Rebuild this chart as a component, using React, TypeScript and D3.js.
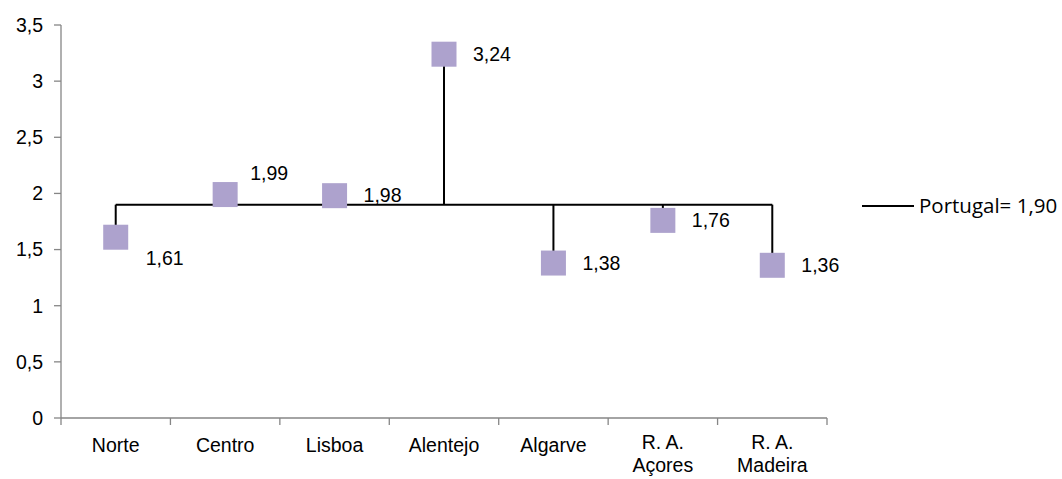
import React from "react";
import * as d3 from "d3";

const categories: string[][] = [["Norte"], ["Centro"], ["Lisboa"], ["Alentejo"], ["Algarve"], ["R. A.", "Açores"], ["R. A.", "Madeira"]];
const values: number[] = [1.61, 1.99, 1.98, 3.24, 1.38, 1.76, 1.36];
const labelPlacement: string[] = ["below", "above", "right", "right", "right", "right", "right"];
const portugalValue = 1.9;
const legendLabel = "Portugal= 1,90";
const yTicks: number[] = [0, 0.5, 1, 1.5, 2, 2.5, 3, 3.5];

const fmt = (v: number) => String(v).replace(".", ",");
const fmt2 = (v: number) => v.toFixed(2).replace(".", ",");

export default function App() {
  const W = 1062, H = 479;
  const left = 61, right = 827, top = 25, bottom = 418;
  const x = d3.scaleBand<number>().domain(d3.range(categories.length)).range([left, right]);
  const y = d3.scaleLinear().domain([0, 3.5]).range([bottom, top]);
  const cx = (i: number) => (x(i) as number) + x.bandwidth() / 2;
  const axisColor = "#868686";
  const markerColor = "#ADA2CD";
  const ms = 25;
  const font = "'Liberation Sans', Arial, sans-serif";
  const fs = 19.5;
  const boundaries = d3.range(categories.length + 1).map((i) => left + i * x.bandwidth());

  return (
    <svg width={W} height={H} style={{ position: "absolute", left: 0, top: 0 }}>
      <rect width={W} height={H} fill="#fff" />
      {/* y axis */}
      <line x1={left} x2={left} y1={top} y2={bottom} stroke={axisColor} strokeWidth={1.3} />
      {yTicks.map((t) => (
        <g key={t}>
          <line x1={left - 7} x2={left} y1={y(t)} y2={y(t)} stroke={axisColor} strokeWidth={1.3} />
          <text x={43} y={y(t)} dy="0.35em" textAnchor="end" fontFamily={font} fontSize={fs} fill="#000">
            {fmt(t)}
          </text>
        </g>
      ))}
      {/* x axis */}
      <line x1={left} x2={right} y1={bottom} y2={bottom} stroke={axisColor} strokeWidth={1.3} />
      {boundaries.map((b, i) => (
        <line key={i} x1={b} x2={b} y1={bottom} y2={bottom + 7} stroke={axisColor} strokeWidth={1.3} />
      ))}
      {categories.map((lines, i) => (
        <text key={i} x={cx(i)} y={lines.length > 1 ? 449 : 452} textAnchor="middle" fontFamily={font} fontSize={fs} fill="#000">
          {lines.map((l, j) => (
            <tspan key={j} x={cx(i)} dy={j === 0 ? 0 : 23}>
              {l}
            </tspan>
          ))}
        </text>
      ))}
      {/* Portugal line */}
      <line x1={cx(0)} x2={cx(categories.length - 1)} y1={y(portugalValue)} y2={y(portugalValue)} stroke="#000" strokeWidth={2} />
      {/* drop lines */}
      {values.map((v, i) => (
        <line key={i} x1={cx(i)} x2={cx(i)} y1={y(portugalValue)} y2={y(v)} stroke="#000" strokeWidth={2} />
      ))}
      {/* markers */}
      {values.map((v, i) => (
        <rect key={i} x={cx(i) - ms / 2} y={y(v) - ms / 2} width={ms} height={ms} fill={markerColor} />
      ))}
      {/* data labels */}
      {values.map((v, i) => {
        const p = labelPlacement[i];
        const dx = p === "right" ? 29 : p === "above" ? 25 : 30;
        const dy = p === "above" ? -21 : p === "below" ? 21 : 0;
        return (
          <text key={i} x={cx(i) + dx} y={y(v) + dy} dy="0.35em" fontFamily={font} fontSize={fs} fill="#000">
            {fmt2(v)}
          </text>
        );
      })}
      {/* legend */}
      <line x1={862} x2={914} y1={206} y2={206} stroke="#000" strokeWidth={2} />
      <text x={919} y={206} dy="0.35em" fontFamily="'Open Sans', 'Noto Sans', sans-serif" fontSize={20.5} fill="#000">
        {legendLabel}
      </text>
    </svg>
  );
}
